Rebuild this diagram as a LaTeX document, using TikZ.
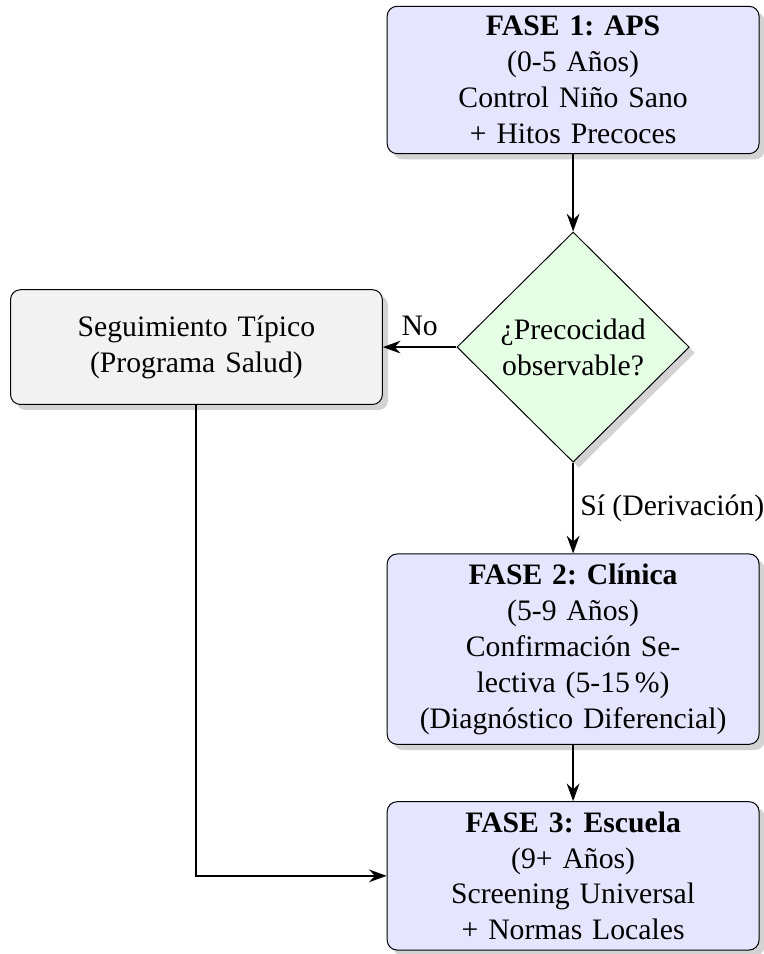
\documentclass[tikz,border=0pt,12pt]{standalone}
\usepackage{fontspec}
\setmainfont{Liberation Serif}
\usepackage{tikz}
\usetikzlibrary{shapes.geometric,shadows,arrows.meta}
\definecolor{fasefill}{rgb}{0.9,0.9,1}
\definecolor{decfill}{rgb}{0.9,1,0.9}
\definecolor{segfill}{rgb}{0.95,0.95,0.95}
\frenchspacing

\begin{document}
\begin{tikzpicture}[
  sombra/.style={drop shadow={opacity=0.35,shadow xshift=2.3pt,shadow yshift=-2.3pt}},
  fase/.style={draw,rounded corners,fill=fasefill,text width=5cm,align=center,
    minimum height=1.6cm,sombra},
  seg/.style={draw,rounded corners,fill=segfill,text width=5cm,align=center,
    minimum height=1.63cm,sombra},
  pregunta/.style={draw,diamond,aspect=1,fill=decfill,align=center,inner sep=1pt,
    minimum width=3.3cm,minimum height=3.27cm,sombra},
  flecha/.style={thick,-{Stealth[length=2.5mm,width=1.8mm]}}]
\useasboundingbox (0,0) rectangle (10.85,-13.55);
\node[fase] (aps) at (8.14,-1.136) {\textbf{FASE 1: APS}\\(0-5 Años)\\Control Niño Sano\\+ Hitos Precoces};
\node[pregunta] (prec) at (8.14,-4.93) {¿Precocidad\\observable?};
\node[seg] (tipico) at (2.79,-4.93) {Seguimiento Típico\\(Programa Salud)};
\node[fase] (clinica) at (8.14,-9.22) {\textbf{FASE 2: Clínica}\\(5-9 Años)\\Confirmación Se-\\lectiva (5-15\,\%)\\(Diagnóstico Diferencial)};
\node[fase] (escuela) at (8.14,-12.44) {\textbf{FASE 3: Escuela}\\(9+ Años)\\Screening Universal\\+ Normas Locales};
\draw[flecha] (aps) -- (prec);
\draw[flecha] (prec.west) -- node[above] {No} (tipico.east);
\draw[flecha] (prec.south) -- node[right,inner sep=2.5pt] {Sí (Derivación)} (clinica.north);
\draw[flecha] (clinica) -- (escuela);
\draw[flecha] (tipico.south) |- (escuela.west);
\end{tikzpicture}
\end{document}
